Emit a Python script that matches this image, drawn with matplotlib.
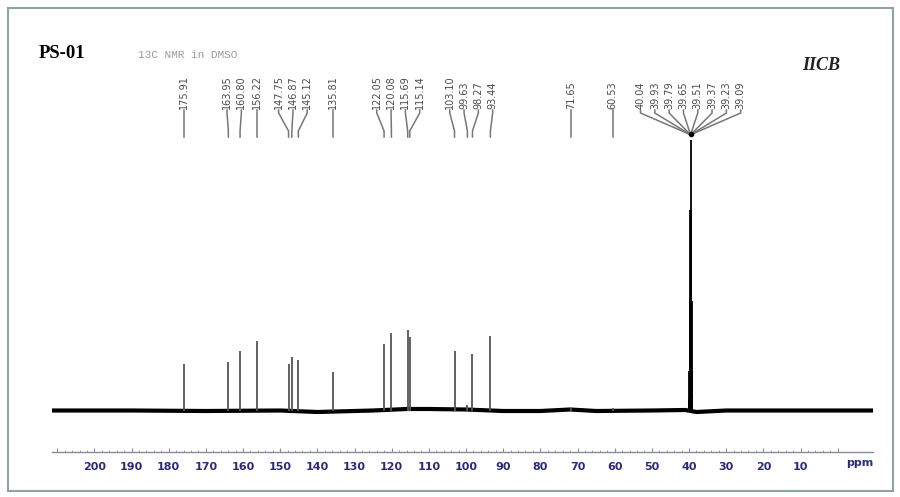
import matplotlib.pyplot as plt
import matplotlib.transforms as mtransforms
from matplotlib.patches import Rectangle

# peak list (ppm) and heights (baseline = 0)
peak_ppm = [175.91, 163.95, 160.80, 156.22, 147.75, 146.87, 145.12, 135.81,
            122.05, 120.08, 115.69, 115.14, 103.10, 99.63, 98.27, 93.44,
            71.65, 60.53]
peak_height = [46.5, 48.5, 59.5, 69.5, 46.5, 53.5, 50.5, 38.5,
               66.5, 77.5, 80.5, 73.5, 59.5, 6.0, 56.5, 74.5,
               3.0, 3.0]

# DMSO-d6 solvent multiplet
dmso_ppm = [40.04, 39.93, 39.79, 39.65, 39.51, 39.37, 39.23, 39.09]
dmso_height = [12, 40, 110, 200, 270, 200, 110, 40]

# slow baseline drift
base_ppm = [211.4, 190, 170, 150, 140, 125, 116, 110, 100, 90, 80, 72, 65, 50, 41, 38, 30, 10, -9.5]
base_val = [0, 0, -0.5, 0, -1.5, 0, 1.5, 1.5, 1, -0.5, -0.5, 1, -0.5, 0, 0.5, -1.5, 0, 0, 0]

major_ticks = list(range(210, -1, -10))
tick_labels = ['' if t in (210, 0) else str(t) for t in major_ticks]

W, H = 900, 497
fig = plt.figure(figsize=(9, 4.97), dpi=100)

def fx(px):
    return px / W

def fy(py):
    return 1 - py / H

ax = fig.add_axes([fx(52), fy(452), fx(873) - fx(52), fy(137) - fy(452)])
ax.set_xlim(211.4, -9.5)
ax.set_ylim(-41.5, 273.5)

# baseline and peaks
ax.plot(base_ppm, base_val, color='black', lw=3.0, solid_capstyle='butt')
ax.vlines(peak_ppm, 0, peak_height, color='#555555', lw=1.3)
ax.vlines(dmso_ppm, 0, dmso_height, color='black', lw=1.3, clip_on=False)

for s in ['top', 'left', 'right']:
    ax.spines[s].set_visible(False)
ax.spines['bottom'].set_color('#8a8aa0')
ax.spines['bottom'].set_linewidth(1.0)
ax.set_yticks([])
ax.set_xticks(major_ticks)
ax.set_xticklabels(tick_labels)
ax.set_xticks([t for t in range(210, -1, -2) if t % 10], minor=True)
ax.tick_params(axis='x', which='major', direction='in', length=3, color='#8a8aa0',
               labelsize=8, labelcolor='#2a2a80', pad=7)
ax.tick_params(axis='x', which='minor', direction='in', length=1.5, color='#8a8aa0')
for lab in ax.get_xticklabels():
    lab.set_fontweight('bold')
ax.text(fx(860), fy(463), 'ppm', transform=fig.transFigure, ha='center', va='center',
        fontsize=8, fontweight='bold', color='#2a2a80')

# spread labels so they don't overlap (in ppm units)
gap = 3.85
all_ppm = peak_ppm + dmso_ppm
groups = [[p] for p in sorted(all_ppm, reverse=True)]

def centers(g):
    c = sum(g) / len(g)
    return [c + (len(g) - 1) / 2 * gap - i * gap for i in range(len(g))]

merged = True
while merged:
    merged = False
    for i in range(len(groups) - 1):
        if centers(groups[i])[-1] - centers(groups[i + 1])[0] < gap:
            groups[i] = groups[i] + groups.pop(i + 1)
            merged = True
            break

blend = mtransforms.blended_transform_factory(ax.transData, fig.transFigure)
for g in groups:
    for p, lx in zip(g, centers(g)):
        is_dmso = p in dmso_ppm
        end_y = 134 if is_dmso else 131
        xs = [lx, lx, p, p]
        ys = [fy(110), fy(113), fy(end_y), fy(137 if not is_dmso else 134)]
        ax.plot(xs, ys, transform=blend, color='#777777', lw=1.1, clip_on=False)
        ax.text(lx, fy(109), f'{p:.2f}', transform=blend, rotation=90,
                ha='center', va='bottom', fontsize=7, color='#4a4a4a')

# junction dot of the solvent multiplet
ax.plot([39.57], [fy(134)], 'o', ms=3, color='black', transform=blend, clip_on=False)

# header texts
fig.text(fx(39), fy(53), 'PS-01', ha='left', va='center', family='Liberation Serif',
         fontweight='bold', fontsize=13.5, color='black')
fig.text(fx(138), fy(55), '13C NMR in DMSO', ha='left', va='center',
         family='Liberation Mono', fontsize=8, color='#9a9a9a')
fig.text(fx(802), fy(65), 'IICB', ha='left', va='center', family='Liberation Serif',
         fontweight='bold', fontstyle='italic', fontsize=13, color='#222222')

# outer frame
fig.patches.append(Rectangle((fx(8), fy(491)), fx(893) - fx(8), fy(8) - fy(491),
                             transform=fig.transFigure, fill=False,
                             edgecolor='#8fa3a3', lw=1.5))

fig.savefig('out.png', dpi=100)
